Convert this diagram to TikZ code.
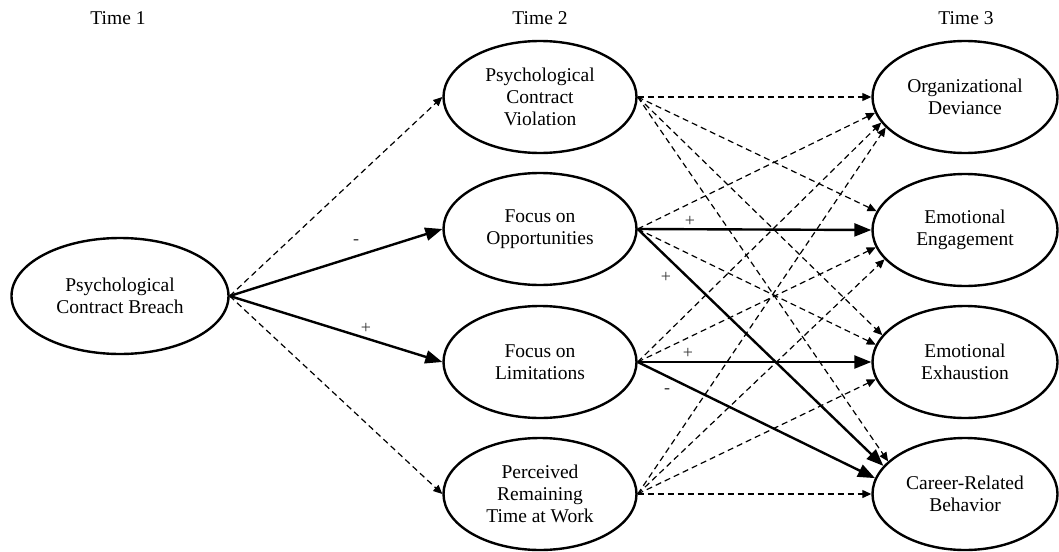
\documentclass[tikz,border=0pt]{standalone}
\usepackage{fontspec}
\setmainfont{Liberation Serif}
\usetikzlibrary{shapes.geometric,arrows.meta}
\begin{document}
\begin{tikzpicture}[x=1pt,y=-1pt,
  txt/.style={font=\fontsize{19.5}{22}\selectfont, align=center},
  var/.style={ellipse, draw, line width=2.4pt, inner sep=0pt, align=center,
    font=\fontsize{19.5}{22}\selectfont},
  midvar/.style={var, minimum width=193pt, minimum height=112pt},
  rightvar/.style={var, minimum width=185pt, minimum height=112pt},
  dasharrow/.style={line width=1.2pt, dash pattern=on 6pt off 4pt,
    -{Triangle[length=9pt,width=8pt]}},
  solidarrow/.style={line width=2.4pt, -{Triangle[length=17pt,width=13pt]}},
  sign/.style={font=\fontsize{18}{18}\selectfont, text=black!80, inner sep=0pt}
]
\useasboundingbox (0,0) rectangle (1059,551);

% column headers
\node[txt] (t1) at (118,18) {Time 1};
\node[txt] (t2) at (540,18) {Time 2};
\node[txt] (t3) at (966,18) {Time 3};

% Time 1
\node[var, minimum width=217pt, minimum height=116pt] (pcb) at (120,296)
  {Psychological\\Contract Breach};

% Time 2
\node[midvar] (pcv) at (540,97) {Psychological\\Contract\\Violation};
\node[midvar] (foo) at (540,229) {Focus on\\Opportunities};
\node[midvar] (fol) at (540,362) {Focus on\\Limitations};
\node[midvar] (prt) at (540,494) {Perceived\\Remaining\\Time at Work};

% Time 3
\node[rightvar] (od)  at (965,97)  {Organizational\\Deviance};
\node[rightvar] (ee)  at (965,230) {Emotional\\Engagement};
\node[rightvar] (eex) at (965,362) {Emotional\\Exhaustion};
\node[rightvar] (crb) at (965,494) {Career-Related\\Behavior};

% Time 1 -> Time 2
\draw[dasharrow]  (pcb.east) -- (pcv.west);
\draw[solidarrow] (pcb.east) -- (foo.west);
\draw[solidarrow] (pcb.east) -- (fol.west);
\draw[dasharrow]  (pcb.east) -- (prt.west);

% Psychological Contract Violation ->
\draw[dasharrow] (pcv.east) -- (od.180);
\draw[dasharrow] (pcv.east) -- (ee.168);
\draw[dasharrow] (pcv.east) -- (eex.162);
\draw[dasharrow] (pcv.east) -- (crb.157);

% Focus on Opportunities ->
\draw[dasharrow]  (foo.east) -- (od.190);
\draw[solidarrow] (foo.east) -- (ee.180);
\draw[dasharrow]  (foo.east) -- (eex.169);
\draw[solidarrow] (foo.east) -- (crb.161);

% Focus on Limitations ->
\draw[dasharrow]  (fol.east) -- (od.197);
\draw[dasharrow]  (fol.east) -- (ee.191);
\draw[solidarrow] (fol.east) -- (eex.180);
\draw[solidarrow] (fol.east) -- (crb.170);

% Perceived Remaining Time at Work ->
\draw[dasharrow] (prt.east) -- (od.201);
\draw[dasharrow] (prt.east) -- (ee.200);
\draw[dasharrow] (prt.east) -- (eex.191);
\draw[dasharrow] (prt.east) -- (crb.180);

% signs
\node[sign] (s1) at (356,242) {-};
\node[sign] (s2) at (366,328) {+};
\node[sign] (s3) at (690,221) {+};
\node[sign] (s4) at (666,277) {+};
\node[sign] (s5) at (688,353) {+};
\node[sign] (s6) at (667,391) {-};
\end{tikzpicture}
\end{document}
